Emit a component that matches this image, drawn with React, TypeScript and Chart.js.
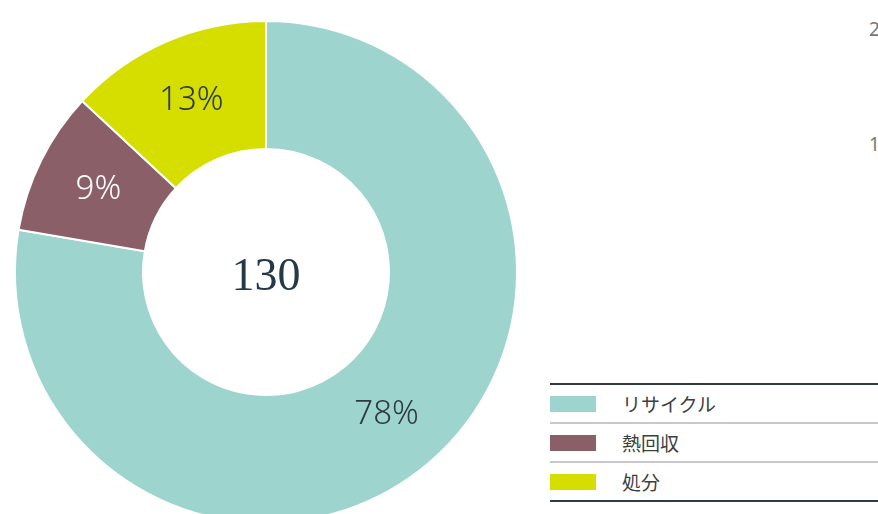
import React, { useEffect, useRef } from "react";
import { Chart, registerables } from "chart.js";

Chart.register(...registerables);

const categories = ["リサイクル", "熱回収", "処分"];
const values = [101, 12, 17];
const colors = ["#9dd4ce", "#8a5f68", "#d6de00"];
const labelColors = ["#2e3a44", "#ffffff", "#2e3a44"];
const centerLabel = "130";
const edgeTicks = ["2", "1"];

const labelPlugin = {
  id: "pctLabels",
  afterDatasetsDraw(chart: any) {
    const { ctx } = chart;
    const meta = chart.getDatasetMeta(0);
    const data = chart.data.datasets[0].data as number[];
    const total = data.reduce((a, b) => a + b, 0);
    ctx.save();
    meta.data.forEach((arc: any, i: number) => {
      const p = arc.getProps(["x", "y", "startAngle", "endAngle", "innerRadius", "outerRadius"], true);
      const mid = (p.startAngle + p.endAngle) / 2;
      const r = (p.innerRadius + p.outerRadius) / 2;
      const x = p.x + Math.cos(mid) * r;
      const y = p.y + Math.sin(mid) * r;
      ctx.font = "300 33px 'Noto Sans', sans-serif";
      ctx.fillStyle = labelColors[i];
      ctx.textAlign = "center";
      ctx.textBaseline = "middle";
      ctx.fillText(Math.round((data[i] / total) * 100) + "%", x, y);
    });
    const a0 = meta.data[0];
    ctx.font = "46px 'Liberation Serif', serif";
    ctx.fillStyle = "#253845";
    ctx.textAlign = "center";
    ctx.textBaseline = "middle";
    ctx.fillText(centerLabel, a0.x, a0.y + 6);
    ctx.restore();
  },
};

export default function App() {
  const ref = useRef<HTMLCanvasElement>(null);
  useEffect(() => {
    document.body.style.margin = "0";
    document.body.style.overflow = "hidden";
    const chart = new Chart(ref.current!, {
      type: "doughnut",
      data: {
        labels: categories,
        datasets: [
          {
            data: values,
            backgroundColor: colors,
            borderColor: "#ffffff",
            borderWidth: 2,
          },
        ],
      },
      options: {
        responsive: false,
        animation: false,
        cutout: "49%",
        layout: { padding: 14 },
        plugins: { legend: { display: false }, tooltip: { enabled: false } },
      },
      plugins: [labelPlugin],
    });
    return () => chart.destroy();
  }, []);

  return (
    <div style={{ position: "relative", width: 878, height: 514, overflow: "hidden", background: "#fff" }}>
      <canvas ref={ref} width={532} height={544} style={{ position: "absolute", left: 0, top: 0 }} />
      {edgeTicks.map((t, i) => (
        <span
          key={t}
          style={{
            position: "absolute",
            left: 869,
            top: i === 0 ? 16 : 131,
            font: "19px 'Noto Sans', sans-serif",
            color: "#777",
          }}
        >
          {t}
        </span>
      ))}
      <div
        style={{
          position: "absolute",
          left: 550,
          top: 383,
          width: 340,
          borderTop: "2px solid #2f3a42",
          borderBottom: "2px solid #2f3a42",
          fontFamily: "'Noto Sans CJK JP', sans-serif",
        }}
      >
        {categories.map((c, i) => (
          <div
            key={c}
            style={{
              height: 37,
              display: "flex",
              alignItems: "center",
              borderTop: i === 0 ? "none" : "2px solid #c8c8cc",
            }}
          >
            <span style={{ display: "inline-block", width: 46, height: 16, background: colors[i] }} />
            <span style={{ marginLeft: 26, fontSize: 19, color: "#3a3f44" }}>{c}</span>
          </div>
        ))}
      </div>
    </div>
  );
}
